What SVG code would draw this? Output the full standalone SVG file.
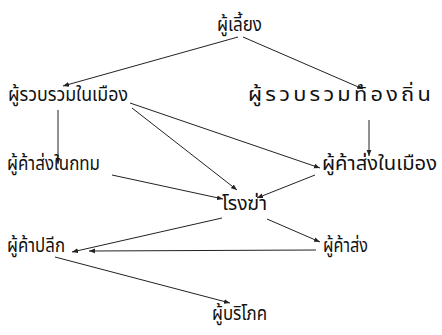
<svg xmlns="http://www.w3.org/2000/svg" width="442" height="335" viewBox="0 0 442 335">
<style>
text{font-family:"Noto Sans Thai","Noto Sans","DejaVu Sans",sans-serif;font-size:19px;fill:#111;}
.c line{stroke:#222;stroke-width:1;fill:none;marker-end:url(#ah);}
</style>
<defs>
<marker id="ah" viewBox="0 0 10 10" refX="10" refY="5" markerWidth="6" markerHeight="6" markerUnits="userSpaceOnUse" orient="auto">
<path d="M0,1 L10,5 L0,9 Z" fill="#222"/>
</marker>
</defs>
<rect width="442" height="335" fill="#fff"/>
<g class="c" id="connectors">
<line x1="238" y1="37" x2="63" y2="86"/>
<line x1="243" y1="37" x2="363" y2="89"/>
<line x1="58" y1="110" x2="58" y2="164"/>
<line x1="369" y1="120" x2="369" y2="156"/>
<line x1="130" y1="103" x2="320" y2="168"/>
<line x1="132" y1="108" x2="237" y2="190"/>
<line x1="112" y1="175" x2="223" y2="199"/>
<line x1="315" y1="175" x2="257" y2="198"/>
<line x1="222" y1="218" x2="72" y2="252"/>
<line x1="267" y1="219" x2="320" y2="242"/>
<line x1="316" y1="250" x2="89" y2="251"/>
<line x1="55" y1="257" x2="230" y2="303"/>
</g>
<g id="n1"><text x="217" y="31" textLength="45" lengthAdjust="spacingAndGlyphs">ผู้เลี้ยง</text></g>
<g id="n2"><text x="8" y="101" textLength="120" lengthAdjust="spacingAndGlyphs">ผู้รวบรวมในเมือง</text></g>
<g id="n3"><text x="248" y="101" textLength="186" lengthAdjust="spacingAndGlyphs" style="font-size:20px;letter-spacing:3px">ผู้รวบรวมท้องถิ่น</text></g>
<g id="n4"><text x="7" y="170" textLength="93" lengthAdjust="spacingAndGlyphs">ผู้ค้าส่งในกทม</text></g>
<g id="n5"><text x="322" y="170" textLength="115" lengthAdjust="spacingAndGlyphs">ผู้ค้าส่งในเมือง</text></g>
<g id="n6"><text x="222" y="210" textLength="45" lengthAdjust="spacingAndGlyphs">โรงฆ่า</text></g>
<g id="n7"><text x="7" y="252" textLength="58" lengthAdjust="spacingAndGlyphs">ผู้ค้าปลีก</text></g>
<g id="n8"><text x="323" y="252" textLength="45" lengthAdjust="spacingAndGlyphs">ผู้ค้าส่ง</text></g>
<g id="n9"><text x="212" y="320" textLength="55" lengthAdjust="spacingAndGlyphs">ผู้บริโภค</text></g>
</svg>
